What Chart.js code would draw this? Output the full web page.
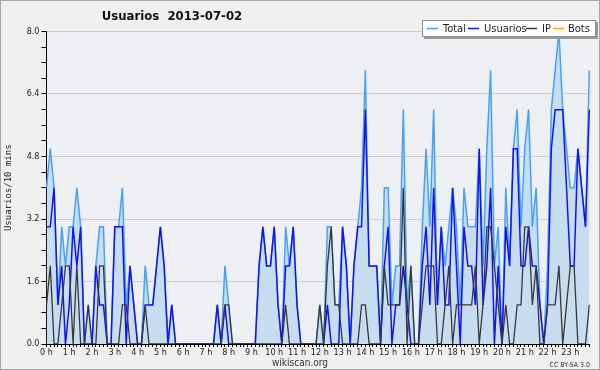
<!DOCTYPE html>
<html><head><meta charset="utf-8">
<script src="https://cdn.jsdelivr.net/npm/chart.js@4.4.0/dist/chart.umd.min.js"></script>
<style>html,body{margin:0;padding:0;background:#efefef}#wrap{width:600px;height:370px;position:relative}</style>
</head><body><div id="wrap"><canvas id="c" width="600" height="370"></canvas></div>
<script>
const titleText = 'Usuarios  2013-07-02';
const yTitle = 'Usuarios/10 mins';
const hourLabels = ['0 h','1 h','2 h','3 h','4 h','5 h','6 h','7 h','8 h','9 h','10 h','11 h','12 h','13 h','14 h','15 h','16 h','17 h','18 h','19 h','20 h','21 h','22 h','23 h'];
const seriesNames = ['Total','Usuarios','IP','Bots'];

// 10-minute slots of the day (categories)
const slots = [];
for (let h = 0; h < 24; h++) for (let m = 0; m < 60; m += 10) slots.push(String(h).padStart(2,'0') + ':' + String(m).padStart(2,'0'));

const total = [
 4,5,4,1,3,2,3,3,4,3, 0,1,0,2,3,3,0,0,3,3, 4,1,2,1,0,0,2,1,1,2, 3,2,0,1,0,0,0,0,0,0,
 0,0,0,0,0,1,0,2,1,0, 0,0,0,0,0,0,2,3,2,2, 3,1,0,3,2,3,1,0,0,0, 0,0,1,0,3,3,1,1,3,2,
 0,2,3,4,7,2,2,2,0,4, 4,1,2,2,6,1,2,0,0,3, 5,3,6,1,3,2,3,4,3,1, 4,3,3,3,5,2,5,7,2,3,
 0,4,2,5,6,3,5,6,3,4, 1,0,2,6,7,8,6,5,4,4, 5,4,3,7];
const usuarios = [
 3,3,4,1,2,0,1,3,2,3, 0,0,0,2,1,1,0,0,3,3, 3,0,2,1,0,0,1,1,1,2, 3,2,0,1,0,0,0,0,0,0,
 0,0,0,0,0,1,0,1,0,0, 0,0,0,0,0,0,2,3,2,2, 3,1,0,2,2,3,1,0,0,0, 0,0,0,0,1,0,0,0,3,2,
 0,2,3,3,6,2,2,2,0,2, 3,0,1,1,2,1,0,0,0,2, 3,1,4,1,3,1,1,4,2,0, 3,2,2,1,5,1,2,4,0,2,
 0,3,2,5,5,2,2,3,2,2, 1,0,1,5,6,6,6,4,2,2, 5,4,3,6];
const ip = [
 1,2,0,0,1,2,2,0,2,0, 0,1,0,0,2,2,0,0,0,0, 1,1,0,0,0,0,1,0,0,0, 0,0,0,0,0,0,0,0,0,0,
 0,0,0,0,0,0,0,1,1,0, 0,0,0,0,0,0,0,0,0,0, 0,0,0,1,0,0,0,0,0,0, 0,0,1,0,2,3,1,1,0,0,
 0,0,0,1,1,0,0,0,0,2, 1,1,1,1,4,0,2,0,0,1, 2,2,2,0,0,1,2,0,1,1, 1,1,1,2,0,1,3,3,2,1,
 0,1,0,0,1,1,3,3,1,2, 0,0,1,1,1,2,0,1,2,2, 0,0,0,1];
const bots = [
 0,0,0,0,0,0,0,0,0,0, 0,0,0,0,0,0,0,0,0,0, 0,0,0,0,0,0,0,0,0,0, 0,0,0,0,0,0,0,0,0,0,
 0,0,0,0,0,0,0,0,0,0, 0,0,0,0,0,0,0,0,0,0, 0,0,0,0,0,0,0,0,0,0, 0,0,0,0,0,0,0,0,0,0,
 0,0,0,0,0,0,0,0,0,0, 0,0,0,0,0,0,0,0,0,0, 0,0,0,0,0,0,0,0,0,0, 0,0,0,0,0,0,0,0,0,0,
 0,0,0,0,0,0,0,0,0,0, 0,0,0,0,0,0,0,0,0,0, 0,0,0,0];

const FONT = "'DejaVu Sans Condensed','Liberation Sans Narrow','DejaVu Sans',sans-serif";
const colors = { Total:'#45a3f2', Usuarios:'#1414ee', IP:'#383838', Bots:'#ffa500' };
const isMajor = v => Math.abs(v / 1.6 - Math.round(v / 1.6)) < 1e-6;

const deco = {
  id: 'deco',
  beforeDraw(chart) {
    const { ctx, chartArea: a } = chart;
    ctx.save();
    ctx.fillStyle = '#efefef'; ctx.fillRect(0, 0, 600, 370);
    ctx.fillStyle = '#edeff2'; ctx.fillRect(a.left, a.top, a.right - a.left, a.bottom - a.top);
    ctx.restore();
  },
  afterDraw(chart) {
    const ctx = chart.ctx;
    ctx.save();
    ctx.strokeStyle = '#a8a8a8'; ctx.lineWidth = 1; ctx.strokeRect(0.5, 0.5, 599, 369);
    // title
    ctx.fillStyle = '#111'; ctx.font = 'bold 13px ' + FONT; ctx.textAlign = 'center'; ctx.textBaseline = 'middle';
    ctx.fillText(titleText, 172, 17);
    // legend
    ctx.font = '11px ' + FONT;
    const bx = 422, by = 20, bw = 174, bh = 17;
    ctx.fillStyle = '#9a9a9a'; ctx.fillRect(bx + 2, by + 2, bw, bh);
    ctx.fillStyle = '#ffffff'; ctx.fillRect(bx, by, bw, bh);
    ctx.strokeStyle = '#8c8c8c'; ctx.lineWidth = 1; ctx.strokeRect(bx + 0.5, by + 0.5, bw - 1, bh - 1);
    const lineX = [427, 468, 526, 553];
    const textX = [443, 484, 542, 568];
    ctx.textAlign = 'left';
    seriesNames.forEach((n, k) => {
      ctx.strokeStyle = colors[n]; ctx.lineWidth = 1.5;
      ctx.beginPath(); ctx.moveTo(lineX[k], by + 8.5); ctx.lineTo(lineX[k] + 11, by + 8.5); ctx.stroke();
      ctx.fillStyle = '#222'; ctx.fillText(n, textX[k], by + 9);
    });
    // credits
    ctx.textAlign = 'center'; ctx.fillStyle = '#333'; ctx.font = '10px ' + FONT;
    ctx.fillText('wikiscan.org', 300, 363);
    ctx.textAlign = 'right'; ctx.font = '7px ' + FONT;
    ctx.fillText('CC BY-SA 3.0', 590, 365);
    ctx.restore();
  }
};

new Chart(document.getElementById('c'), {
  type: 'line',
  data: {
    labels: slots,
    datasets: [
      { label: 'IP', data: ip, borderColor: colors.IP, borderWidth: 1.3, pointRadius: 0, fill: false, order: 1 },
      { label: 'Usuarios', data: usuarios, borderColor: colors.Usuarios, borderWidth: 1.5, pointRadius: 0, fill: false, order: 2 },
      { label: 'Total', data: total, borderColor: colors.Total, backgroundColor: '#c6dcef', borderWidth: 1.5, pointRadius: 0, fill: 'origin', order: 3 },
      { label: 'Bots', data: bots, borderColor: colors.Bots, borderWidth: 1, pointRadius: 0, fill: false, order: 4 }
    ]
  },
  options: {
    responsive: false, animation: false, devicePixelRatio: 1,
    elements: { line: { tension: 0 } },
    layout: { padding: { left: 0, right: 10.7, top: 31.5, bottom: 0 } },
    plugins: { legend: { display: false }, title: { display: false }, tooltip: { enabled: false } },
    scales: {
      x: {
        type: 'category', offset: false, z: 1,
        afterFit(s) { s.height = 26; },
        border: { color: '#000', width: 1 },
        grid: { drawOnChartArea: false, drawTicks: true, tickLength: 3, tickColor: '#000', offset: false },
        ticks: { autoSkip: false, maxRotation: 0, minRotation: 0, padding: 0, color: '#222',
          font: { family: FONT, size: 9 },
          callback: (v, i) => (i % 6 === 0 ? hourLabels[i / 6] : '') }
      },
      y: {
        min: 0, max: 8,
        afterFit(s) { s.width = 46.5; },
        border: { color: '#000', width: 1 },
        grid: { color: c => (c.tick && isMajor(c.tick.value) && c.tick.value > 0 ? '#cdcdcd' : 'rgba(0,0,0,0)'),
          tickColor: '#000', tickLength: 5, drawTicks: true, lineWidth: 1 },
        ticks: { stepSize: 0.4, autoSkip: false, padding: 2, color: '#222', font: { family: FONT, size: 9 },
          callback: v => (isMajor(v) ? Number(v).toFixed(1) : '') },
        title: { display: true, text: yTitle, color: '#222', font: { family: "'DejaVu Sans Mono',monospace", size: 9 }, padding: { top: 3, bottom: 0 } }
      }
    }
  },
  plugins: [deco]
});
</script></body></html>
